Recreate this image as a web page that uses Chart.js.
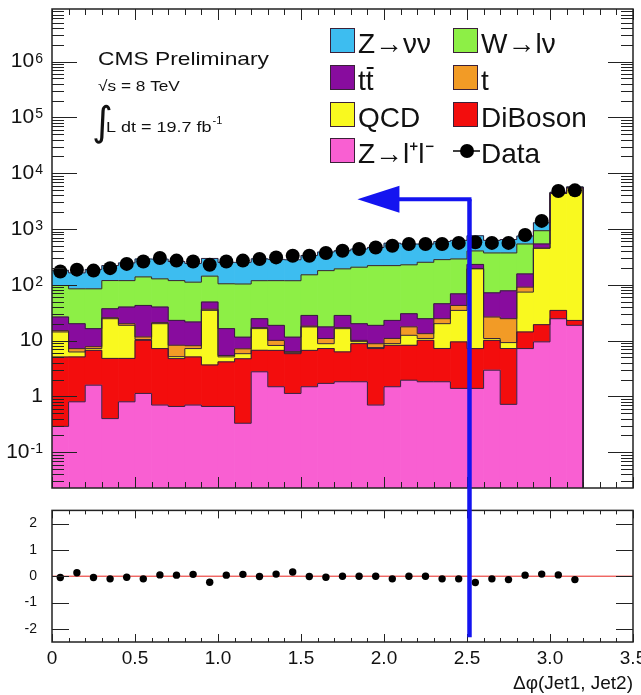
<!DOCTYPE html>
<html lang="en">
<head>
  <meta charset="UTF-8">
  <title>CMS Preliminary - Δφ(Jet1, Jet2)</title>
  <script src="https://cdn.jsdelivr.net/npm/chart.js"></script>
  <style>
    body { margin: 0; background: #fff; }
    #wrap { position: relative; width: 641px; height: 695px; }
    #mainChart { position: absolute; left: 0; top: 0; }
    #ratioChart { position: absolute; left: 0; top: 495px; }
    #overlay { position: absolute; left: 0; top: 0; pointer-events: none; }
  </style>
</head>
<body>
  <div id="wrap">
    <canvas id="mainChart" width="641" height="495"></canvas>
    <canvas id="ratioChart" width="641" height="200"></canvas>
    <canvas id="overlay" width="641" height="695"></canvas>
  </div>

  <script>
    const FONT = "'Liberation Sans', Arial, Helvetica, sans-serif";
    Chart.defaults.font.family = FONT;

    // bin centres of the histogram (bin width 0.1)
    const binCenters = [0.05, 0.15, 0.25, 0.35, 0.45, 0.55, 0.65, 0.75, 0.85, 0.95,
                        1.05, 1.15, 1.25, 1.35, 1.45, 1.55, 1.65, 1.75, 1.85, 1.95,
                        2.05, 2.15, 2.25, 2.35, 2.45, 2.55, 2.65, 2.75, 2.85, 2.95,
                        3.05, 3.15];
    const BIN_WIDTH = 0.1;

    // background yields per bin
    const zll = [0.29, 0.80, 1.59, 0.40, 0.80, 1.13, 0.70, 0.66, 0.70, 0.66, 0.66, 0.33, 2.76, 1.49, 1.13, 1.49,
                 1.71, 1.83, 1.83, 0.70, 1.49, 1.95, 1.83, 1.83, 1.39, 1.39, 2.95, 0.72, 7.2, 9.5, 24.7, 18.8];
    const diboson = [4.8, 4.3, 5.1, 4.4, 4.0, 9.0, 6.5, 4.1, 4.4, 3.0, 3.5, 4.4, 3.95, 5.2, 4.7, 5.2,
                     5.5, 4.45, 7.0, 6.5, 6.75, 6.3, 8.3, 5.4, 8.1, 5.8, 7.15, 6.5, 7.1, 9.8, 10.1, 4.2];
    const qcd = [9.2, 1.16, 0.5, 19.9, 14.0, 0.3, 12.9, 0.4, 2.1, 31.2, 0.95, 1.1, 9.7, 1.5, 0.25, 10.9,
                 1.6, 10.1, 0.76, 0.3, 0.6, 4.2, 0.8, 12.9, 25.3, 186, 0.8, 2.0, 59.8, 433, 4300, 5450];
    const singleTop = [0.8, 0.92, 0.6, 1.0, 1.3, 1.2, 0.9, 3.1, 0.9, 1.7, 0.3, 1.3, 0.7, 1.9, 0.26, 0.6,
                       2.1, 0.7, 0.5, 1.3, 2.1, 5.2, 2.4, 4.6, 7.9, 3, 15.6, 15.5, 16.8, 3, 10, 10];
    const ttbar = [11.4, 12.9, 8.6, 11.6, 19.9, 31.1, 19.0, 14.8, 13.5, 12.6, 11.0, 4.4, 7.6, 8.7, 5.2, 10.1,
                   6.7, 11.2, 10.0, 10.0, 12.1, 12.7, 11.4, 21.1, 26.3, 36, 45.4, 53.4, 66, 85, 60, 70];
    const wlnu = [70.7, 64.7, 68.4, 82, 79, 96, 88, 96, 90, 94, 88, 92, 94, 100, 107, 123,
                  162, 165, 187, 202, 198, 198, 229, 237, 222, 173, 301, 295, 383, 393, 110, 90];
    const znunu = [85, 79, 104, 102, 128, 152, 161, 143, 131, 154, 148, 150, 174, 168, 163, 185,
                   208, 215, 231, 247, 337, 310, 284, 315, 336, 353, 254, 275, 210, 363, 56, 35];

    // observed events and (data - MC)/MC
    const data = [173, 187, 180, 199, 237, 262, 303, 272, 262, 229, 262, 272, 290, 310, 333, 333,
                  372, 408, 438, 468, 502, 538, 538, 538, 564, 580, 564, 564, 780, 1400, 4800, 4940];
    const ratio = [-0.05, 0.13, -0.05, -0.10, -0.04, -0.10, 0.05, 0.04, 0.07, -0.23, 0.04, 0.07, -0.01, 0.08, 0.16, -0.01,
                   -0.04, 0.0, 0.0, 0.0, -0.10, 0.0, 0.0, -0.10, -0.10, -0.24, -0.10, -0.13, 0.04, 0.08, 0.05, -0.13];

    // axes
    const Y_MIN = 0.0228, Y_MAX = 8.8e6;
    const yTickValues = [0.1, 1, 10, 100, 1e3, 1e4, 1e5, 1e6];
    const yTickBase = ['10', '1', '10', '10', '10', '10', '10', '10'];
    const yTickExp = ['-1', '', '', '2', '3', '4', '5', '6'];
    const ratioTicks = [-2, -1, 0, 1, 2];
    const refLineX = [0, 3.5];
    const refLineY = [0, 0];

    // cut arrow (in axis units)
    const ARROW_X = 2.515, ARROW_TOP = 3430, ARROW_BOTTOM = -2.32, ARROW_TIP = 1.84;

    // stacking order, bottom first
    const processes = [
      { name: 'Z→l⁺l⁻', yields: zll, color: '#f95fd2' },
      { name: 'DiBoson', yields: diboson, color: '#f30d0d' },
      { name: 'QCD', yields: qcd, color: '#f9f91f' },
      { name: 't', yields: singleTop, color: '#f29b26' },
      { name: 'tt̄', yields: ttbar, color: '#880c9e' },
      { name: 'W→lν', yields: wlnu, color: '#8def46' },
      { name: 'Z→νν', yields: znunu, color: '#3dbdf0' }
    ];
    const colorOf = name => processes.find(p => p.name === name).color;

    // ROOT style frame: inward ticks on all four sides
    const rootFrame = {
      id: 'rootFrame',
      afterDraw(chart, args, opts) {
        const { ctx, chartArea: a } = chart;
        const xs = chart.scales.x, ys = chart.scales.y;
        ctx.save();
        ctx.strokeStyle = '#222';
        ctx.lineWidth = 1;
        ctx.beginPath();
        for (let k = 0; k <= 35; k++) {
          const px = Math.round(xs.getPixelForValue(k / 10)) + 0.5;
          const len = k % 5 === 0 ? opts.xMajor : opts.xMinor;
          ctx.moveTo(px, a.bottom); ctx.lineTo(px, a.bottom - len);
          ctx.moveTo(px, a.top); ctx.lineTo(px, a.top + len);
        }
        const yTick = (v, len) => {
          const py = Math.round(ys.getPixelForValue(v)) + 0.5;
          ctx.moveTo(a.left, py); ctx.lineTo(a.left + len, py);
          ctx.moveTo(a.right, py); ctx.lineTo(a.right - len, py);
        };
        if (opts.log) {
          for (let e = -2; e <= 7; e++) {
            for (let m = 1; m <= 9; m++) {
              const v = m * Math.pow(10, e);
              if (v < ys.min || v > ys.max) continue;
              yTick(v, m === 1 ? opts.yMajor : opts.yMinor);
            }
          }
        } else {
          opts.yMajors.forEach(v => yTick(v, opts.yMajor));
        }
        ctx.stroke();
        ctx.lineWidth = 1.5;
        ctx.strokeRect(a.left, a.top, a.right - a.left, a.bottom - a.top);

        // log axis labels with real superscripts
        if (opts.log) {
          const right = a.left - 9;
          ctx.fillStyle = '#111';
          ctx.textAlign = 'right';
          yTickValues.forEach((v, i) => {
            const py = ys.getPixelForValue(v);
            let x = right;
            if (yTickExp[i]) {
              ctx.font = '14px ' + FONT;
              ctx.textBaseline = 'alphabetic';
              ctx.fillText(yTickExp[i], x, py + 1);
              x -= ctx.measureText(yTickExp[i]).width + 1;
            }
            ctx.font = '21px ' + FONT;
            ctx.textBaseline = 'middle';
            ctx.fillText(yTickBase[i], x, py);
          });
        }
        ctx.restore();
      }
    };

    function stretchText(ctx, text, x, y, font, sx) {
      ctx.save();
      ctx.font = font;
      ctx.translate(x, y);
      ctx.scale(sx, 1);
      ctx.fillText(text, 0, 0);
      const w = ctx.measureText(text).width * sx;
      ctx.restore();
      return w;
    }

    // header and legend
    const cmsLegend = {
      id: 'cmsLegend',
      afterDraw(chart) {
        const ctx = chart.ctx;
        ctx.save();
        ctx.fillStyle = '#111';
        ctx.textBaseline = 'alphabetic';
        stretchText(ctx, 'CMS Preliminary', 98, 65, '19px ' + FONT, 1.2);
        stretchText(ctx, '√s = 8 TeV', 98, 91, '15px ' + FONT, 1.15);
        ctx.font = "40px 'DejaVu Sans'";
        ctx.fillText('∫', 92, 135);
        const w = stretchText(ctx, 'L dt = 19.7 fb', 106, 132, '15px ' + FONT, 1.2);
        stretchText(ctx, '-1', 106 + w + 1, 124, '10px ' + FONT, 1.1);

        // legend, two columns
        const entries = [
          { name: 'Z→νν', col: 0, row: 0 }, { name: 'W→lν', col: 1, row: 0 },
          { name: 'tt̄', col: 0, row: 1 }, { name: 't', col: 1, row: 1 },
          { name: 'QCD', col: 0, row: 2 }, { name: 'DiBoson', col: 1, row: 2 },
          { name: 'Z→l⁺l⁻', col: 0, row: 3 }, { name: 'Data', col: 1, row: 3, marker: true }
        ];
        const colX = [330, 453], boxTop = [28, 65, 102, 138], box = 25;
        ctx.font = '28px ' + FONT;
        entries.forEach(e => {
          const x = colX[e.col], y = boxTop[e.row];
          if (e.marker) {
            ctx.strokeStyle = '#000';
            ctx.lineWidth = 1.5;
            ctx.beginPath();
            ctx.moveTo(x, y + 13); ctx.lineTo(x + 27, y + 13);
            ctx.stroke();
            ctx.fillStyle = '#000';
            ctx.beginPath();
            ctx.arc(x + 14, y + 13, 7, 0, Math.PI * 2);
            ctx.fill();
          } else {
            ctx.fillStyle = colorOf(e.name);
            ctx.fillRect(x, y, box, box);
            ctx.strokeStyle = '#3a2038';
            ctx.lineWidth = 1;
            ctx.strokeRect(x + 0.5, y + 0.5, box - 1, box - 1);
          }
          ctx.fillStyle = '#111';
          const tx = x + box + 3, base = y + box;
          if (e.name === 'tt̄') {
            ctx.fillText('tt', tx, base);
            const wt = ctx.measureText('t').width;
            ctx.fillRect(tx + wt + 1, base - 23, wt - 1, 2);
          } else {
            ctx.fillText(e.name, tx, base);
          }
        });
        ctx.restore();
      }
    };

    // stacked histogram as floating bars plus step outlines
    const datasets = [];
    let running = binCenters.map(() => 0);
    const last = binCenters.length - 1;
    processes.forEach(p => {
      const lo = running;
      const hi = lo.map((v, i) => v + p.yields[i]);
      datasets.push({
        type: 'bar',
        label: p.name,
        order: 3,
        data: binCenters.map((x, i) => ({ x: x, y: [Math.max(lo[i], Y_MIN), hi[i]] })),
        backgroundColor: p.color,
        borderWidth: 0,
        barPercentage: 1,
        categoryPercentage: 1,
        grouped: false
      });
      // outline: each bin value held from its low edge to the next edge
      const outline = binCenters.map((x, i) => ({ x: x - BIN_WIDTH / 2, y: hi[i] }));
      outline.push({ x: binCenters[last] + BIN_WIDTH / 2, y: hi[last] });
      outline.push({ x: binCenters[last] + BIN_WIDTH / 2, y: Y_MIN });
      datasets.push({
        type: 'line',
        order: 2,
        data: outline,
        stepped: 'before',
        borderColor: '#35203a',
        borderWidth: 1,
        pointRadius: 0,
        fill: false
      });
      running = hi;
    });
    datasets.push({
      type: 'line',
      label: 'Data',
      order: 1,
      data: binCenters.map((x, i) => ({ x: x, y: data[i] })),
      showLine: false,
      pointRadius: 7,
      pointBackgroundColor: '#000',
      pointBorderWidth: 0
    });

    const mainChart = new Chart(document.getElementById('mainChart'), {
      type: 'bar',
      data: { datasets: datasets },
      options: {
        responsive: false,
        animation: false,
        devicePixelRatio: 1,
        layout: { padding: { top: 9, right: 8, bottom: 5, left: 0 } },
        plugins: {
          legend: { display: false },
          tooltip: { enabled: false },
          rootFrame: { log: true, xMajor: 11, xMinor: 6, yMajor: 25, yMinor: 12 }
        },
        scales: {
          x: {
            type: 'linear',
            min: 0,
            max: 3.5,
            offset: false,
            display: false,
            grid: { display: false }
          },
          y: {
            type: 'logarithmic',
            min: Y_MIN,
            max: Y_MAX,
            afterBuildTicks: s => { s.ticks = yTickValues.map(v => ({ value: v })); },
            afterFit: s => { s.width = 52; },
            grid: { display: false },
            border: { display: false },
            ticks: { display: false }
          }
        }
      },
      plugins: [rootFrame, cmsLegend]
    });

    const ratioChart = new Chart(document.getElementById('ratioChart'), {
      type: 'line',
      data: {
        datasets: [{
          order: 1,
          data: binCenters.map((x, i) => ({ x: x, y: ratio[i] })),
          showLine: false,
          pointRadius: 3.7,
          pointBackgroundColor: '#000',
          pointBorderWidth: 0
        }, {
          order: 2,
          data: refLineX.map((x, i) => ({ x: x, y: refLineY[i] })),
          borderColor: '#e8231e',
          borderWidth: 1,
          pointRadius: 0
        }]
      },
      options: {
        responsive: false,
        animation: false,
        devicePixelRatio: 1,
        layout: { padding: { top: 7, right: 8, bottom: 0, left: 0 } },
        plugins: {
          legend: { display: false },
          tooltip: { enabled: false },
          rootFrame: { log: false, xMajor: 8, xMinor: 4, yMajor: 17, yMajors: ratioTicks }
        },
        scales: {
          x: {
            type: 'linear',
            min: 0,
            max: 3.5,
            afterFit: s => { s.height = 53; s.paddingLeft = 0; s.paddingRight = 0; },
            grid: { display: false },
            border: { display: false },
            ticks: {
              stepSize: 0.5,
              maxRotation: 0,
              autoSkip: false,
              padding: -3,
              color: '#111',
              font: { size: 19 }
            },
            title: {
              display: true,
              text: 'Δφ(Jet1, Jet2)',
              align: 'end',
              color: '#111',
              font: { size: 19 },
              padding: { top: 0, bottom: 0 }
            }
          },
          y: {
            type: 'linear',
            min: -2.5,
            max: 2.5,
            afterBuildTicks: s => { s.ticks = ratioTicks.map(v => ({ value: v })); },
            afterFit: s => { s.width = 52; },
            grid: { display: false },
            border: { display: false },
            ticks: { autoSkip: false, padding: 7, color: '#111', font: { size: 14 } }
          }
        }
      },
      plugins: [rootFrame]
    });

    // blue cut arrow across both pads
    function drawArrow() {
      const ctx = document.getElementById('overlay').getContext('2d');
      const xs = mainChart.scales.x, ys = mainChart.scales.y, ry = ratioChart.scales.y;
      const ratioTop = 495;
      const x0 = xs.getPixelForValue(ARROW_X);
      const yTop = ys.getPixelForValue(ARROW_TOP);
      const yBot = ratioTop + ry.getPixelForValue(ARROW_BOTTOM);
      const xTip = xs.getPixelForValue(ARROW_TIP);
      ctx.strokeStyle = '#1414f0';
      ctx.fillStyle = '#1414f0';
      ctx.lineWidth = 4.5;
      ctx.beginPath();
      ctx.moveTo(x0, yBot);
      ctx.lineTo(x0, yTop);
      ctx.stroke();
      ctx.lineWidth = 4;
      ctx.beginPath();
      ctx.moveTo(x0 + 2, yTop);
      ctx.lineTo(xTip + 38, yTop);
      ctx.stroke();
      ctx.beginPath();
      ctx.moveTo(xTip, yTop);
      ctx.lineTo(xTip + 42, yTop - 13.5);
      ctx.lineTo(xTip + 42, yTop + 13.5);
      ctx.closePath();
      ctx.fill();
    }
    drawArrow();
  </script>
</body>
</html>
